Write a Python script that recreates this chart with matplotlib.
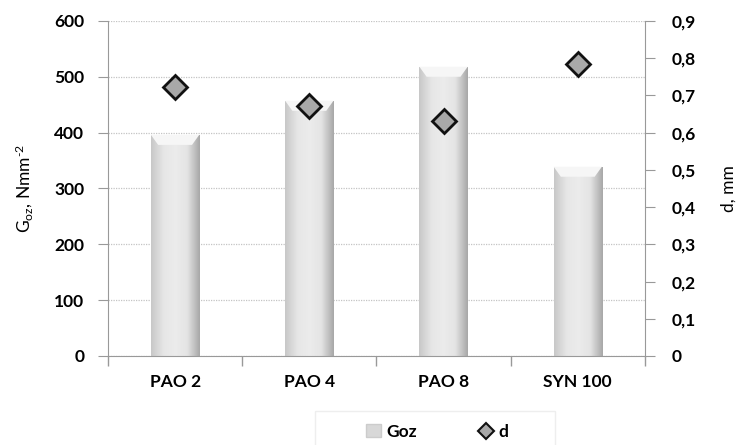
import matplotlib
matplotlib.use("Agg")
import matplotlib.pyplot as plt
import numpy as np
from matplotlib.colors import LinearSegmentedColormap
from matplotlib.patches import Patch, Rectangle
from matplotlib.lines import Line2D

categories = ["PAO 2", "PAO 4", "PAO 8", "SYN 100"]
goz = [396, 457, 518, 339]
d = [0.722, 0.672, 0.632, 0.785]
left_ticks = [0, 100, 200, 300, 400, 500, 600]
right_ticks = [0, 0.1, 0.2, 0.3, 0.4, 0.5, 0.6, 0.7, 0.8, 0.9]
right_labels = ["0", "0,1", "0,2", "0,3", "0,4", "0,5", "0,6", "0,7", "0,8", "0,9"]

plt.rcParams['font.family'] = ['Lato', 'DejaVu Sans']
plt.rcParams['mathtext.fontset'] = 'custom'
plt.rcParams['mathtext.rm'] = 'Lato'
plt.rcParams['mathtext.it'] = 'Lato'

FS = 12.5

fig = plt.figure(figsize=(7.37, 4.45), dpi=100)
ax = fig.add_axes([0.1465, 0.2, 0.7285, 0.753])
x = np.arange(len(categories))
width = 0.36

cmap = LinearSegmentedColormap.from_list(
    "bar", ["#c8c8c8", "#e6e6e6", "#ececec", "#e4e4e4", "#a8a8a8"])
bars = ax.bar(x, goz, width, color="#e4e4e4", edgecolor="none", zorder=2)
grad = np.linspace(0, 1, 64).reshape(1, -1)
for b in bars:
    x0, y0 = b.get_x(), b.get_y()
    w, h = b.get_width(), b.get_height()
    im = ax.imshow(grad, cmap=cmap, aspect="auto", extent=(x0, x0 + w, y0, y0 + h),
                   zorder=2.5, interpolation="bicubic")
    im.set_clip_path(b)
    ax.fill([x0, x0 + w, x0 + w * 0.85, x0 + w * 0.15], [h, h, h - 18, h - 18],
            color="#f6f6f6", zorder=3, lw=0)

ax.set_xlim(-0.5, len(categories) - 0.5)
ax.set_ylim(0, 600)
ax.set_yticks(left_ticks)
ax.set_xticks(x)
ax.set_xticklabels(categories, fontsize=FS, fontweight="bold")
ax.tick_params(axis="x", length=0, pad=13)
ax.set_xticks(np.arange(-0.5, len(categories), 1), minor=True)
ax.tick_params(axis="x", which="minor", length=7, color="#999999", width=1)
ax.tick_params(axis="y", length=7, color="#999999", labelsize=FS, pad=10)
for lab in ax.get_yticklabels():
    lab.set_fontweight("bold")
ax.grid(axis="y", color="#c4c4c4", linestyle=(0, (1, 1)), linewidth=0.9, zorder=0)
ax.set_axisbelow(True)
for s in ["top", "right"]:
    ax.spines[s].set_visible(False)
ax.spines["left"].set_color("#999999")
ax.spines["bottom"].set_color("#999999")
ax.set_ylabel("G$_{\\mathrm{oz}}$, Nmm$^{\\mathrm{\u2010}2}$", fontsize=FS, labelpad=14)

ax2 = ax.twinx()
ax2.set_ylim(0, 0.9)
ax2.set_yticks(right_ticks)
ax2.set_yticklabels(right_labels, fontsize=FS, fontweight="bold")
ax2.tick_params(axis="y", length=7, color="#999999", pad=12)
for s in ["top", "left", "bottom"]:
    ax2.spines[s].set_visible(False)
ax2.spines["right"].set_color("#999999")
ax2.plot(x, d, linestyle="none", marker="D", markersize=12, markerfacecolor="#a8a8a8",
         markeredgecolor="#111111", markeredgewidth=2, zorder=5)
ax2.set_ylabel("d, mm", fontsize=FS, labelpad=18)

# legend frame
fig.add_artist(Rectangle((315 / 737, -0.01), 240 / 737, 34 / 445 + 0.01,
                         transform=fig.transFigure, facecolor="none",
                         edgecolor="#eeeeee", lw=1))
handles = [Patch(facecolor="#d8d8d8", edgecolor="#cccccc", label="Goz"),
           Line2D([], [], linestyle="none", marker="D", markersize=8,
                  markerfacecolor="#a8a8a8", markeredgecolor="#111111",
                  markeredgewidth=1.5, label="d")]
leg = fig.legend(handles=handles, loc="center", bbox_to_anchor=(0.593, 0.03),
                 ncol=2, frameon=False, prop={"weight": "bold", "size": FS},
                 handlelength=0.9, handletextpad=0.3, columnspacing=3.5)

fig.savefig("out.png", dpi=100)
